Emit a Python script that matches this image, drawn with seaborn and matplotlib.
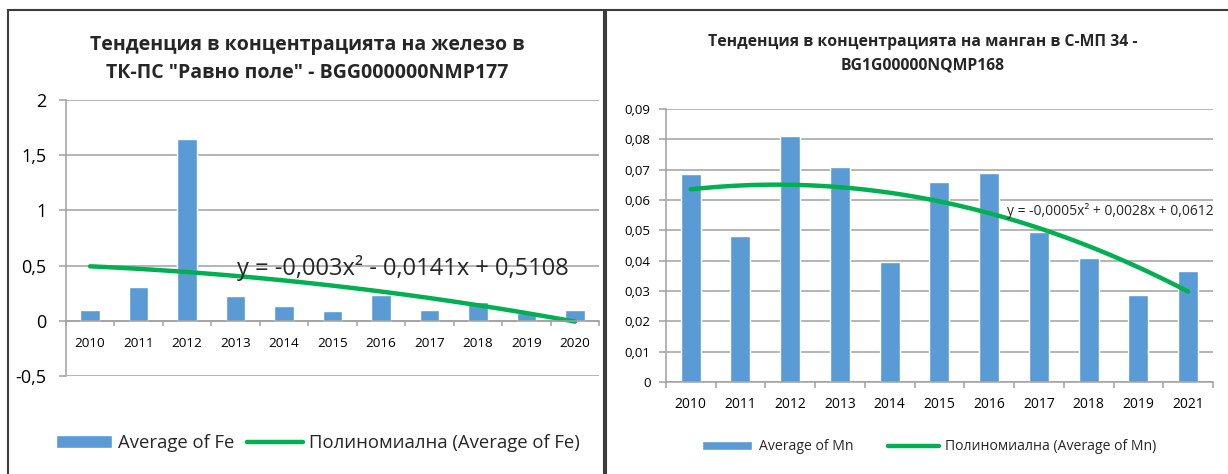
import numpy as np
import seaborn as sns
import matplotlib.pyplot as plt
from matplotlib.patches import Rectangle
from matplotlib.ticker import FuncFormatter, FixedLocator, MultipleLocator

# data
fe_years = ['2010', '2011', '2012', '2013', '2014', '2015', '2016', '2017', '2018', '2019', '2020']
fe_values = [0.10, 0.31, 1.645, 0.22, 0.13, 0.09, 0.236, 0.094, 0.17, 0.075, 0.10]
mn_years = ['2010', '2011', '2012', '2013', '2014', '2015', '2016', '2017', '2018', '2019', '2021']
mn_values = [0.0685, 0.048, 0.081, 0.071, 0.0394, 0.0659, 0.069, 0.0493, 0.041, 0.0286, 0.0366]

fe_title = ['Тенденция в концентрацията на железо в', 'ТК-ПС "Равно поле" - BGG000000NMP177']
mn_title = ['Тенденция в концентрацията на манган в С-МП 34 -', 'BG1G00000NQMP168']
fe_eq = 'y = -0,003x² - 0,0141x + 0,5108'
mn_eq = 'y = -0,0005x² + 0,0028x + 0,0612'

BAR = '#5b9bd5'
TREND = '#00b050'
GRID = '#a0a0a0'

sns.set_style('white')
plt.rcParams['font.family'] = ['Open Sans', 'DejaVu Sans']

fig = plt.figure(figsize=(12.28, 4.74), dpi=100)
W, H = 1228, 474


def fx(px):
    return px / W


def fy(py):
    return 1 - py / H


comma = FuncFormatter(lambda v, p: f'{v:g}'.replace('.', ','))


def draw(ax, years, values, name, ylim, ystep, xfs, yfs, xpad, ypad, mtick, zero_axis):
    n = len(years)
    sns.barplot(x=years, y=values, color=BAR, width=0.4, saturation=1,
                ax=ax, label=f'Average of {name}')
    sns.regplot(x=np.arange(n), y=np.array(values), order=2, ci=None, scatter=False,
                ax=ax, color=TREND, label=f'Полиномиална (Average of {name})',
                line_kws={'lw': 3.2, 'solid_capstyle': 'round'})
    ax.set_xlim(-0.5, n - 0.5)
    ax.set_ylim(*ylim)
    ax.yaxis.set_major_locator(MultipleLocator(ystep))
    ax.yaxis.set_major_formatter(comma)
    ax.grid(axis='y', color=GRID, lw=1.1)
    ax.set_axisbelow(True)
    for s in ['top', 'right']:
        ax.spines[s].set_visible(False)
    for s in ['left', 'bottom']:
        ax.spines[s].set_color(GRID)
        ax.spines[s].set_linewidth(1.1)
    if zero_axis:
        ax.spines['bottom'].set_position(('data', 0))
    ax.xaxis.set_minor_locator(FixedLocator(np.arange(n + 1) - 0.5))
    ax.tick_params(axis='x', which='major', length=0, pad=xpad, labelsize=xfs, labelcolor='black')
    ax.tick_params(axis='x', which='minor', length=mtick, width=1.1, color=GRID, direction='out', bottom=True)
    ax.tick_params(axis='y', length=5, width=1.1, color=GRID, direction='out', left=True,
                   labelsize=yfs, labelcolor='black', pad=ypad)
    ax.set_xlabel('')
    ax.set_ylabel('')


def legend(ax, cx, cy, **kw):
    handles, labels = ax.get_legend_handles_labels()
    order = sorted(range(len(labels)), key=lambda i: not labels[i].startswith('Average'))
    ax.legend([handles[i] for i in order], [labels[i] for i in order],
              loc='center', bbox_to_anchor=(fx(cx), fy(cy)), bbox_transform=fig.transFigure,
              ncol=2, frameon=False, **kw)


ax1 = fig.add_axes([0.0536, 0.2068, 0.4344, 0.5822])
draw(ax1, fe_years, fe_values, 'Fe', (-0.5, 2), 0.5, 9.7, 13, 11.5, 9, 3.5, True)
ax2 = fig.add_axes([0.5422, 0.1941, 0.4456, 0.5759])
draw(ax2, mn_years, mn_values, 'Mn', (0, 0.09), 0.01, 10, 9.5, 10.5, 6, 4.5, False)

# titles
fig.text(fx(307), fy(45), fe_title[0], ha='center', va='center', fontsize=14, fontweight='bold')
fig.text(fx(307), fy(73), fe_title[1], ha='center', va='center', fontsize=14, fontweight='bold')
fig.text(fx(923), fy(42), mn_title[0], ha='center', va='center', fontsize=11.3, fontweight='bold')
fig.text(fx(923), fy(65), mn_title[1], ha='center', va='center', fontsize=11.3, fontweight='bold')

# trend equations
fig.text(fx(237), fy(268), fe_eq, ha='left', va='center', fontsize=17)
fig.text(fx(1007), fy(211), mn_eq, ha='left', va='center', fontsize=10)

# legends
legend(ax1, 318, 443, fontsize=13.3, handlelength=3.0, handleheight=0.7,
       handletextpad=0.35, columnspacing=0.7)
legend(ax2, 929, 447, fontsize=10.1, handlelength=3.6, handleheight=0.6,
       handletextpad=0.45, columnspacing=2.5)

# chart frames
fig.add_artist(Rectangle((fx(8), fy(480)), fx(596), (480 - 10) / H, transform=fig.transFigure,
                         fill=False, ec='#3c3c3c', lw=1.5))
fig.add_artist(Rectangle((fx(606), fy(480)), fx(640), (480 - 10) / H, transform=fig.transFigure,
                         fill=False, ec='#3c3c3c', lw=1.5))

fig.savefig('out.png', dpi=100, facecolor='white')
